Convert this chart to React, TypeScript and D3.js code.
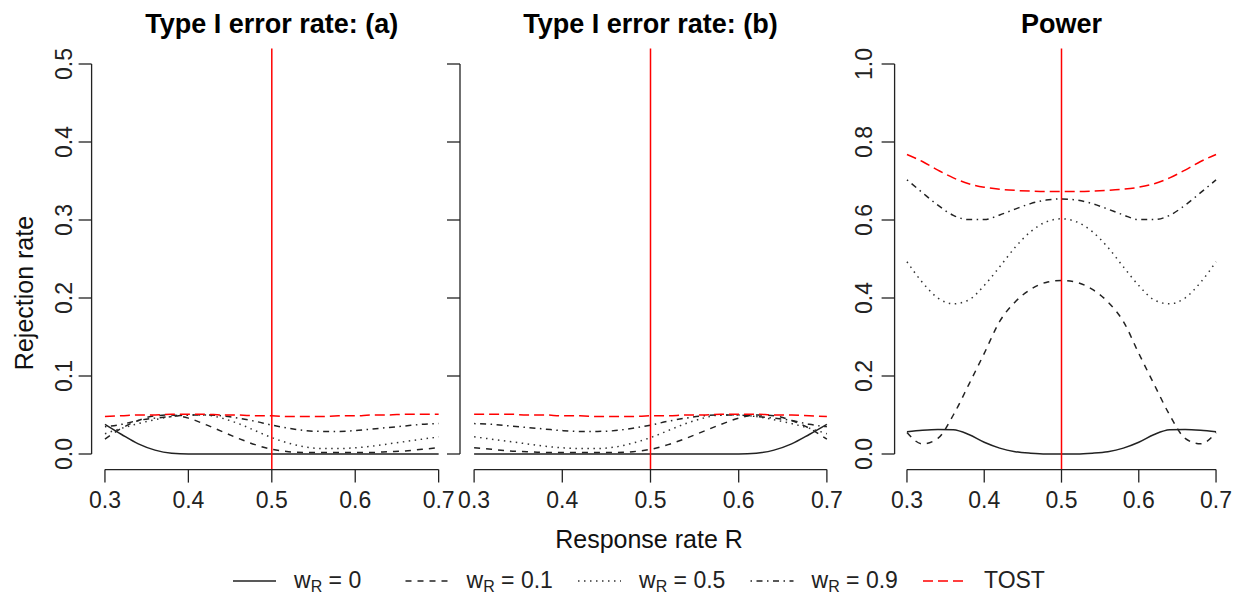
import { useEffect, useRef } from 'react';
import * as d3 from 'd3';

// response rate grid shared by all panels
const responseRate = [0.30, 0.32, 0.34, 0.36, 0.38, 0.40, 0.42, 0.44, 0.46, 0.48, 0.50,
  0.52, 0.54, 0.56, 0.58, 0.60, 0.62, 0.64, 0.66, 0.68, 0.70];

// Type I error rate (a)
const errA_w0 = [0.038, 0.025, 0.013, 0.005, 0.001, 0, 0, 0, 0, 0, 0, 0, 0, 0, 0, 0, 0, 0, 0, 0, 0];
const errA_w01 = [0.019, 0.033, 0.043, 0.049, 0.050, 0.046, 0.038, 0.029, 0.020, 0.012, 0.006, 0.003, 0.002, 0.002, 0.002, 0.002, 0.002, 0.003, 0.004, 0.006, 0.008];
const errA_w05 = [0.026, 0.033, 0.039, 0.044, 0.048, 0.050, 0.050, 0.046, 0.039, 0.030, 0.021, 0.014, 0.009, 0.007, 0.007, 0.008, 0.010, 0.013, 0.016, 0.019, 0.022];
const errA_w09 = [0.035, 0.038, 0.043, 0.046, 0.048, 0.050, 0.050, 0.049, 0.046, 0.042, 0.037, 0.033, 0.030, 0.029, 0.029, 0.030, 0.032, 0.034, 0.036, 0.038, 0.039];
const errA_tost = [0.048, 0.049, 0.050, 0.050, 0.051, 0.051, 0.051, 0.050, 0.050, 0.049, 0.049, 0.048, 0.048, 0.048, 0.049, 0.049, 0.050, 0.050, 0.051, 0.051, 0.051];

// Type I error rate (b)
const errB_w0 = [0, 0, 0, 0, 0, 0, 0, 0, 0, 0, 0, 0, 0, 0, 0, 0, 0.001, 0.005, 0.013, 0.025, 0.038];
const errB_w01 = [0.008, 0.006, 0.004, 0.003, 0.002, 0.002, 0.002, 0.002, 0.002, 0.003, 0.006, 0.012, 0.020, 0.029, 0.038, 0.046, 0.050, 0.049, 0.043, 0.033, 0.019];
const errB_w05 = [0.022, 0.019, 0.016, 0.013, 0.010, 0.008, 0.007, 0.007, 0.009, 0.014, 0.021, 0.030, 0.039, 0.046, 0.050, 0.050, 0.048, 0.044, 0.039, 0.033, 0.026];
const errB_w09 = [0.039, 0.038, 0.036, 0.034, 0.032, 0.030, 0.029, 0.029, 0.030, 0.033, 0.037, 0.042, 0.046, 0.049, 0.050, 0.050, 0.048, 0.046, 0.043, 0.038, 0.035];
const errB_tost = [0.051, 0.051, 0.051, 0.050, 0.050, 0.049, 0.049, 0.048, 0.048, 0.048, 0.049, 0.049, 0.050, 0.050, 0.051, 0.051, 0.051, 0.050, 0.050, 0.049, 0.048];

// Power
const power_w0 = [0.057, 0.061, 0.063, 0.062, 0.050, 0.030, 0.015, 0.006, 0.002, 0, 0, 0, 0.002, 0.006, 0.015, 0.030, 0.050, 0.062, 0.063, 0.061, 0.057];
const power_w01 = [0.055, 0.026, 0.040, 0.100, 0.178, 0.258, 0.340, 0.390, 0.422, 0.440, 0.445, 0.440, 0.422, 0.390, 0.340, 0.258, 0.178, 0.100, 0.040, 0.026, 0.055];
const power_w05 = [0.493, 0.440, 0.400, 0.385, 0.395, 0.432, 0.480, 0.530, 0.570, 0.595, 0.603, 0.595, 0.570, 0.530, 0.480, 0.432, 0.395, 0.385, 0.400, 0.440, 0.493];
const power_w09 = [0.703, 0.670, 0.638, 0.612, 0.601, 0.601, 0.613, 0.628, 0.642, 0.651, 0.654, 0.651, 0.642, 0.628, 0.613, 0.601, 0.601, 0.612, 0.638, 0.670, 0.703];
const power_tost = [0.768, 0.750, 0.728, 0.708, 0.693, 0.684, 0.679, 0.676, 0.674, 0.673, 0.673, 0.673, 0.674, 0.676, 0.679, 0.684, 0.693, 0.708, 0.728, 0.750, 0.768];

const xTicks = [0.3, 0.4, 0.5, 0.6, 0.7];
const errTicks = [0, 0.1, 0.2, 0.3, 0.4, 0.5];
const powerTicks = [0, 0.2, 0.4, 0.6, 0.8, 1.0];
const legendLabels = ['0', '0.1', '0.5', '0.9'];

// line styles: solid, dashed, dotted, dotdash, TOST longdash
const lineColors = ['#222', '#222', '#333', '#222', '#ff0000'];
const lineDashes = ['none', '6,6', '1.5,4.5', '1.5,4.5,6,4.5', '10,5'];

const FONT = 'Liberation Sans, Arial, Helvetica, sans-serif';

export default function App() {
  const ref = useRef<SVGSVGElement | null>(null);

  useEffect(() => {
    const width = 1235;
    const height = 597;
    const plotTop = 48.4;
    const plotBottom = 469.6;

    const panels = [
      { title: 'Type I error rate: (a)', left: 91.6, right: 452, yMax: 0.5, ticks: errTicks, labelOff: 20,
        showLabels: true, series: [errA_w0, errA_w01, errA_w05, errA_w09, errA_tost] },
      { title: 'Type I error rate: (b)', left: 460, right: 841, yMax: 0.5, ticks: errTicks, labelOff: 20,
        showLabels: false, series: [errB_w0, errB_w01, errB_w05, errB_w09, errB_tost] },
      { title: 'Power', left: 894.6, right: 1228.4, yMax: 1.0, ticks: powerTicks, labelOff: 23,
        showLabels: true, series: [power_w0, power_w01, power_w05, power_w09, power_tost] },
    ];

    const svg = d3.select(ref.current);
    svg.selectAll('*').remove();
    svg.attr('width', width).attr('height', height);

    svg.append('rect').attr('width', width).attr('height', height).attr('fill', 'white');

    panels.forEach(p => {
      const x = d3.scaleLinear().domain([0.284, 0.716]).range([p.left, p.right]);
      const pad = p.yMax * 0.04;
      const y = d3.scaleLinear().domain([-pad, p.yMax + pad]).range([plotBottom, plotTop]);
      const g = svg.append('g');

      // curves
      const line = d3.line<number>()
        .x((d, i) => x(responseRate[i]))
        .y(d => y(d))
        .curve(d3.curveMonotoneX);

      g.selectAll('path.series')
        .data(p.series)
        .join('path')
        .attr('class', 'series')
        .attr('d', d => line(d))
        .attr('fill', 'none')
        .attr('stroke', (d, i) => lineColors[i])
        .attr('stroke-width', 1.5)
        .attr('stroke-dasharray', (d, i) => lineDashes[i]);

      // vertical reference line at R = 0.5
      g.append('line')
        .attr('x1', x(0.5)).attr('x2', x(0.5))
        .attr('y1', plotTop).attr('y2', plotBottom)
        .attr('stroke', '#ff0000').attr('stroke-width', 1.5);

      // y axis
      g.append('line')
        .attr('x1', p.left).attr('x2', p.left)
        .attr('y1', y(0)).attr('y2', y(p.yMax))
        .attr('stroke', '#222').attr('stroke-width', 1.3);
      g.selectAll('line.ytick')
        .data(p.ticks)
        .join('line')
        .attr('class', 'ytick')
        .attr('x1', p.left - 13).attr('x2', p.left)
        .attr('y1', d => y(d)).attr('y2', d => y(d))
        .attr('stroke', '#222').attr('stroke-width', 1.3);
      if (p.showLabels) {
        g.selectAll('text.ylab')
          .data(p.ticks)
          .join('text')
          .attr('class', 'ylab')
          .attr('transform', d => `translate(${p.left - p.labelOff},${y(d)}) rotate(-90)`)
          .attr('text-anchor', 'middle')
          .style('font-family', FONT)
          .style('font-size', '23px')
          .attr('fill', '#222')
          .text(d => d.toFixed(1));
      }

      // x axis
      g.append('line')
        .attr('x1', x(0.3)).attr('x2', x(0.7))
        .attr('y1', plotBottom).attr('y2', plotBottom)
        .attr('stroke', '#222').attr('stroke-width', 1.3);
      g.selectAll('line.xtick')
        .data(xTicks)
        .join('line')
        .attr('class', 'xtick')
        .attr('x1', d => x(d)).attr('x2', d => x(d))
        .attr('y1', plotBottom).attr('y2', plotBottom + 13)
        .attr('stroke', '#222').attr('stroke-width', 1.3);
      g.selectAll('text.xlab')
        .data(xTicks)
        .join('text')
        .attr('class', 'xlab')
        .attr('x', d => x(d))
        .attr('y', 508)
        .attr('text-anchor', 'middle')
        .style('font-family', FONT)
        .style('font-size', '23px')
        .attr('fill', '#222')
        .text(d => d.toFixed(1));

      // title
      g.append('text')
        .attr('x', (p.left + p.right) / 2)
        .attr('y', 33)
        .attr('text-anchor', 'middle')
        .style('font-family', FONT)
        .style('font-size', '27px')
        .style('font-weight', 'bold')
        .text(p.title);
    });

    // axis titles
    svg.append('text')
      .attr('x', 649).attr('y', 548)
      .attr('text-anchor', 'middle')
      .style('font-family', FONT).style('font-size', '25px')
      .attr('fill', '#111')
      .text('Response rate R');
    svg.append('text')
      .attr('transform', 'translate(33,293) rotate(-90)')
      .attr('text-anchor', 'middle')
      .style('font-family', FONT).style('font-size', '25px')
      .attr('fill', '#111')
      .text('Rejection rate');

    // legend
    const legendY = 581;
    const items = [0, 1, 2, 3, 4];
    const lg = svg.append('g');
    items.forEach(i => {
      const x0 = 233 + i * 172.5;
      lg.append('line')
        .attr('x1', x0).attr('x2', x0 + 43)
        .attr('y1', legendY).attr('y2', legendY)
        .attr('stroke', lineColors[i])
        .attr('stroke-width', 1.5)
        .attr('stroke-dasharray', lineDashes[i]);
      const t = lg.append('text')
        .attr('x', x0 + 61).attr('y', legendY + 7)
        .style('font-family', FONT).style('font-size', '23px')
        .attr('fill', '#222');
      if (i < 4) {
        t.append('tspan').text('w');
        t.append('tspan').attr('dy', 4).style('font-size', '16px').text('R');
        t.append('tspan').attr('dy', -4).text(' = ' + legendLabels[i]);
      } else {
        t.text('TOST');
      }
    });
  }, []);

  return (
    <svg ref={ref} style={{ position: 'absolute', left: 0, top: 0, display: 'block' }} />
  );
}
